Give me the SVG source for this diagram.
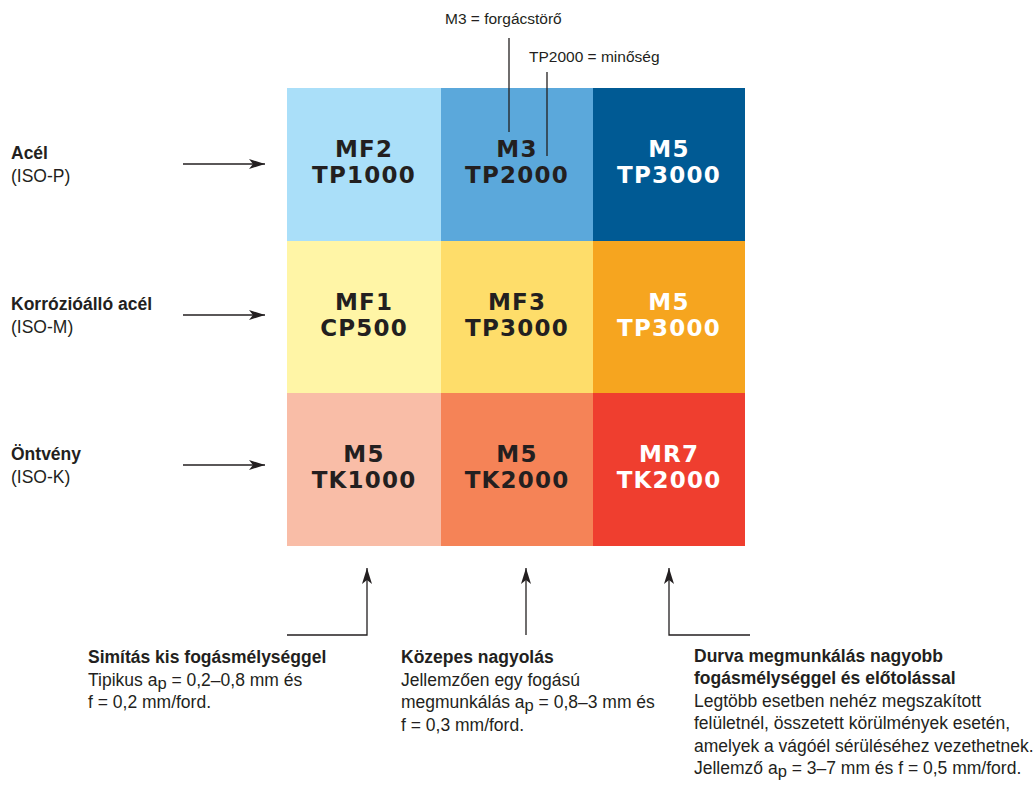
<svg xmlns="http://www.w3.org/2000/svg" width="1036" height="789" viewBox="0 0 1036 789">
<style>
.cell{font-family:"DejaVu Sans",sans-serif;font-weight:bold;font-size:23px;letter-spacing:1.2px;text-anchor:middle}
.dk{fill:#231f20}
.wt{fill:#ffffff}
.lbl{font-family:"Liberation Sans",Arial,sans-serif;font-size:17.5px;fill:#231f20}
.b{font-weight:bold}
.top{font-family:"Liberation Sans",Arial,sans-serif;font-size:15.5px;fill:#231f20}
.sub{font-size:16.5px}
.ln{stroke:#231f20;stroke-width:1.3;fill:none}
</style>
<defs>
<marker id="ah" markerUnits="userSpaceOnUse" markerWidth="16" markerHeight="10" refX="16" refY="5" orient="auto">
<path d="M0,0 L16,5 L0,10 L4,5 z" fill="#231f20"/>
</marker>
</defs>
<rect width="1036" height="789" fill="#ffffff"/>
<g id="grid">
<g id="cell-p1"><rect x="287" y="88" width="154" height="153" fill="#aadff9"/><text class="cell dk" x="364" y="157">MF2</text><text class="cell dk" x="364" y="183">TP1000</text></g>
<g id="cell-p2"><rect x="441" y="88" width="152" height="153" fill="#5ba8db"/><text class="cell dk" x="517" y="157">M3</text><text class="cell dk" x="517" y="183">TP2000</text></g>
<g id="cell-p3"><rect x="593" y="88" width="152" height="153" fill="#005a94"/><text class="cell wt" x="669" y="157">M5</text><text class="cell wt" x="669" y="183">TP3000</text></g>
<g id="cell-m1"><rect x="287" y="241" width="154" height="152" fill="#fff5a6"/><text class="cell dk" x="364" y="310">MF1</text><text class="cell dk" x="364" y="336">CP500</text></g>
<g id="cell-m2"><rect x="441" y="241" width="152" height="152" fill="#fedd6a"/><text class="cell dk" x="517" y="310">MF3</text><text class="cell dk" x="517" y="336">TP3000</text></g>
<g id="cell-m3"><rect x="593" y="241" width="152" height="152" fill="#f6a51f"/><text class="cell wt" x="669" y="310">M5</text><text class="cell wt" x="669" y="336">TP3000</text></g>
<g id="cell-k1"><rect x="287" y="393" width="154" height="153" fill="#f9bda7"/><text class="cell dk" x="364" y="462">M5</text><text class="cell dk" x="364" y="488">TK1000</text></g>
<g id="cell-k2"><rect x="441" y="393" width="152" height="153" fill="#f58357"/><text class="cell dk" x="517" y="462">M5</text><text class="cell dk" x="517" y="488">TK2000</text></g>
<g id="cell-k3"><rect x="593" y="393" width="152" height="153" fill="#ef3e2f"/><text class="cell wt" x="669" y="462">MR7</text><text class="cell wt" x="669" y="488">TK2000</text></g>
</g>
<g id="top-labels">
<text class="top" x="445" y="24">M3 = forgácstörő</text>
<text class="top" x="529" y="62">TP2000 = minőség</text>
</g>
<g id="left-labels">
<g id="lbl-p"><text class="lbl b" x="11" y="159">Acél</text><text class="lbl" x="11" y="182">(ISO-P)</text></g>
<g id="lbl-m"><text class="lbl b" x="11" y="310">Korrózióálló acél</text><text class="lbl" x="11" y="333">(ISO-M)</text></g>
<g id="lbl-k"><text class="lbl b" x="11" y="460">Öntvény</text><text class="lbl" x="11" y="483">(ISO-K)</text></g>
</g>
<g id="bottom-labels">
<g id="note-1">
<text class="lbl b" x="88" y="663">Simítás kis fogásmélységgel</text>
<text class="lbl" x="88" y="686">Tipikus a<tspan class="sub" dy="3">p</tspan><tspan dy="-3"> = 0,2–0,8 mm és</tspan></text>
<text class="lbl" x="88" y="708">f = 0,2 mm/ford.</text>
</g>
<g id="note-2">
<text class="lbl b" x="401" y="663">Közepes nagyolás</text>
<text class="lbl" x="401" y="686">Jellemzően egy fogású</text>
<text class="lbl" x="401" y="708">megmunkálás a<tspan class="sub" dy="3">p</tspan><tspan dy="-3"> = 0,8–3 mm és</tspan></text>
<text class="lbl" x="401" y="731">f = 0,3 mm/ford.</text>
</g>
<g id="note-3">
<text class="lbl b" x="694" y="662">Durva megmunkálás nagyobb</text>
<text class="lbl b" x="694" y="684">fogásmélységgel és előtolással</text>
<text class="lbl" x="694" y="707">Legtöbb esetben nehéz megszakított</text>
<text class="lbl" x="694" y="729">felületnél, összetett körülmények esetén,</text>
<text class="lbl" x="694" y="752">amelyek a vágóél sérüléséhez vezethetnek.</text>
<text class="lbl" x="694" y="774">Jellemző a<tspan class="sub" dy="3">p</tspan><tspan dy="-3"> = 3–7 mm és f = 0,5 mm/ford.</tspan></text>
</g>
</g>
<g id="connectors">
<line class="ln" x1="509" y1="38" x2="509" y2="132"/>
<line class="ln" x1="547" y1="72" x2="547" y2="156"/>
<line class="ln" x1="183" y1="164" x2="265" y2="164" marker-end="url(#ah)"/>
<line class="ln" x1="183" y1="315" x2="265" y2="315" marker-end="url(#ah)"/>
<line class="ln" x1="183" y1="465" x2="265" y2="465" marker-end="url(#ah)"/>
<polyline class="ln" points="287,635 367,635 367,568" marker-end="url(#ah)"/>
<line class="ln" x1="526" y1="635" x2="526" y2="568" marker-end="url(#ah)"/>
<polyline class="ln" points="750,635 669,635 669,568" marker-end="url(#ah)"/>
</g>
</svg>
